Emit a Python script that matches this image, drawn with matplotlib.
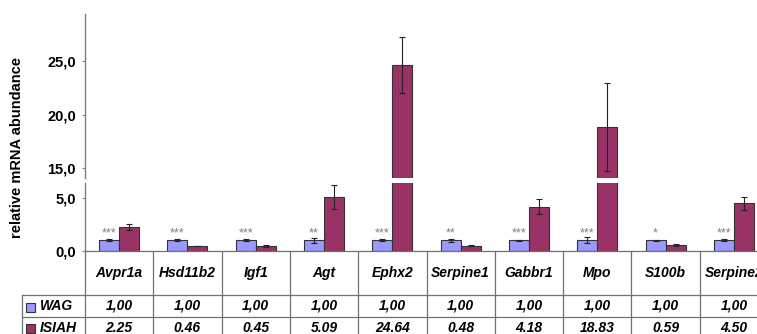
import numpy as np
import matplotlib
matplotlib.use("Agg")
import matplotlib.pyplot as plt
from matplotlib.patches import Rectangle
from matplotlib.ticker import FuncFormatter

plt.rcParams['font.family'] = ['Liberation Sans', 'DejaVu Sans']

genes = ["Avpr1a", "Hsd11b2", "Igf1", "Agt", "Ephx2",
         "Serpine1", "Gabbr1", "Mpo", "S100b", "Serpine2"]
wag = [1.00, 1.00, 1.00, 1.00, 1.00, 1.00, 1.00, 1.00, 1.00, 1.00]
wag_err = [0.10, 0.10, 0.09, 0.25, 0.10, 0.12, 0.05, 0.28, 0.08, 0.10]
isiah = [2.25, 0.46, 0.45, 5.09, 24.64, 0.48, 4.18, 18.83, 0.59, 4.50]
isiah_err = [0.30, 0.03, 0.09, 1.10, 2.60, 0.04, 0.70, 4.10, 0.10, 0.60]
stars = ["***", "***", "***", "**", "***", "**", "***", "***", "*", "***"]

WAG_COL = '#9999ff'
ISIAH_COL = '#993366'
GRID_COL = '#707070'

W, H = 757, 334
fig = plt.figure(figsize=(W / 100, H / 100), dpi=100)


def px_axes(x0, y0, x1, y1):
    # place an axes using pixel coordinates measured from the top-left corner
    return fig.add_axes([x0 / W, 1 - y1 / H, (x1 - x0) / W, (y1 - y0) / H])


ax_top = px_axes(85, 14, 768, 178)
ax_bot = px_axes(85, 183, 768, 251)
ax_tab = px_axes(85, 251, 768, 339)

x = np.arange(len(genes))
bw = 0.293
err_style = dict(ecolor='#222222', elinewidth=0.8, capsize=2, capthick=0.8)

for ax in (ax_top, ax_bot):
    ax.bar(x - bw / 2, wag, bw, yerr=wag_err, color=WAG_COL,
           edgecolor='#333333', linewidth=0.8, error_kw=err_style)
    ax.bar(x + bw / 2, isiah, bw, yerr=isiah_err, color=ISIAH_COL,
           edgecolor='#333333', linewidth=0.8, error_kw=err_style)
    ax.set_xlim(-0.5, len(genes) - 0.5)
    for s in ('top', 'right', 'bottom'):
        ax.spines[s].set_visible(False)
    ax.spines['left'].set_color('#808080')
    ax.spines['left'].set_linewidth(1.0)
    ax.set_xticks([])
    ax.tick_params(axis='y', direction='out', length=2.5, color='#808080',
                   labelsize=10.5, pad=4)
    ax.yaxis.set_major_formatter(FuncFormatter(lambda v, p: f"{v:.1f}".replace('.', ',')))

ax_top.set_ylim(14.07, 29.4)
ax_top.set_yticks([15, 20, 25])
ax_bot.set_ylim(0, 6.42)
ax_bot.set_yticks([0, 5])
for ax in (ax_top, ax_bot):
    for lab in ax.get_yticklabels():
        lab.set_fontweight('bold')

# significance marks above the WAG bars
for i, s in enumerate(stars):
    ax_bot.text(x[i] - bw / 2, 1.65, s, ha='center', va='center',
                fontsize=9, color='#808080')

fig.text(17 / W, 1 - 148 / H, "relative mRNA abundance", rotation=90,
         ha='center', va='center', fontsize=10.5, fontweight='bold')

# data table under the chart
ax_tab.set_xlim(-0.5, len(genes) - 0.5)
ax_tab.set_ylim(0, 88)
ax_tab.axis('off')
left = -0.5 - 63 / 68.3
right = len(genes) - 0.5
line_kw = dict(color=GRID_COL, linewidth=0.9, clip_on=False)
ax_tab.plot([-0.5, right], [88, 88], **line_kw)
ax_tab.plot([left, right], [44, 44], **line_kw)
ax_tab.plot([left, right], [22, 22], **line_kw)
ax_tab.plot([left, right], [0, 0], **line_kw)
ax_tab.plot([left, left], [0, 44], **line_kw)
for b in np.arange(len(genes) + 1) - 0.5:
    ax_tab.plot([b, b], [0, 88], **line_kw)

cell_font = dict(ha='center', va='center', fontsize=10,
                 fontweight='bold', fontstyle='italic', clip_on=False)
for i, g in enumerate(genes):
    ax_tab.text(x[i], 66, g, **cell_font)
    ax_tab.text(x[i], 33, f"{wag[i]:.2f}".replace('.', ','), **cell_font)
    ax_tab.text(x[i], 11, f"{isiah[i]:.2f}", **cell_font)

key_x = -0.5 - 59 / 68.3
for yc, name, col in ((31.5, "WAG", WAG_COL), (10.5, "ISIAH", ISIAH_COL)):
    ax_tab.add_patch(Rectangle((key_x, yc - 4.5), 9 / 68.3, 9, facecolor=col,
                               edgecolor='#333333', linewidth=0.8, clip_on=False))
    ax_tab.text(-0.5 - 45 / 68.3, yc + 1, name, ha='left', va='center',
                fontsize=10, fontweight='bold', fontstyle='italic', clip_on=False)

fig.savefig("out.png", dpi=100)
